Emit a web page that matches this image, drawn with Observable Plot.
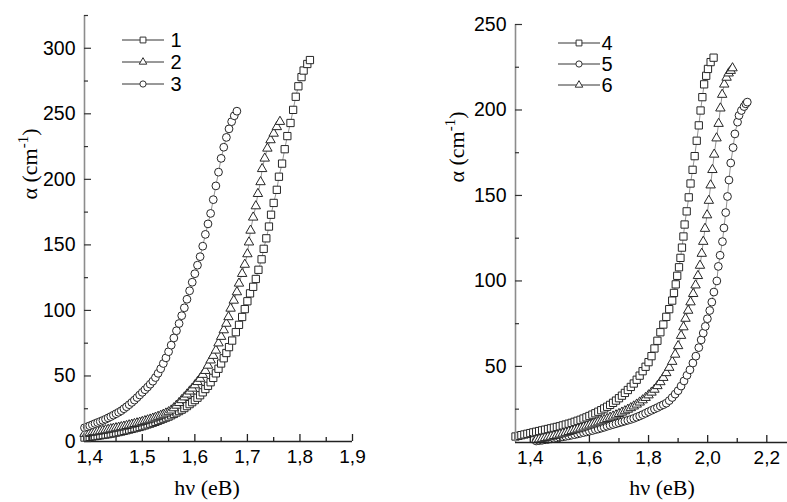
<!DOCTYPE html>
<html><head><meta charset="utf-8">
<script src="https://cdn.jsdelivr.net/npm/d3@7"></script>
<script src="https://cdn.jsdelivr.net/npm/@observablehq/plot@0.6"></script>
<style>
body{margin:0;background:#fff;}
#wrap{display:flex;width:787px;height:502px;overflow:hidden;}
svg{display:block}
</style></head><body><div id="wrap"></div>
<script>
// ---------- Left panel data ----------
const series1 = [[1.390,3.0],[1.395,3.2],[1.400,3.5],[1.405,3.8],[1.410,4.1],[1.415,4.4],[1.420,4.7],[1.425,5.0],[1.430,5.3],[1.435,5.6],[1.440,6.0],[1.445,6.4],[1.450,6.8],[1.455,7.2],[1.460,7.6],[1.465,8.1],[1.470,8.6],[1.475,9.1],[1.480,9.6],[1.485,10.1],[1.490,10.6],[1.495,11.1],[1.500,11.7],[1.505,12.3],[1.510,13.0],[1.515,13.6],[1.520,14.3],[1.525,15.0],[1.530,15.8],[1.535,16.6],[1.540,17.4],[1.545,18.2],[1.550,19.0],[1.555,20.0],[1.560,21.0],[1.565,22.1],[1.570,23.2],[1.575,24.3],[1.580,25.5],[1.585,27.0],[1.590,28.5],[1.595,30.0],[1.600,31.6],[1.605,33.4],[1.610,35.3],[1.615,37.5],[1.620,40.0],[1.625,42.5],[1.630,45.2],[1.635,48.5],[1.640,52.0],[1.645,55.5],[1.650,59.5],[1.655,63.5],[1.660,67.5],[1.665,72],[1.671,77],[1.678,83.4],[1.684,89],[1.690,95],[1.695,101],[1.700,107],[1.705,113],[1.711,118],[1.716,124],[1.721,131],[1.727,139],[1.731,147],[1.736,155],[1.741,164],[1.745,173],[1.750,182],[1.756,192],[1.760,202],[1.766,212],[1.771,223],[1.776,233],[1.782,243],[1.787,253],[1.792,263],[1.797,271],[1.803,278],[1.807,283],[1.814,288],[1.819,291]];
const series2 = [[1.390,6.0],[1.395,6.3],[1.400,6.6],[1.405,6.9],[1.410,7.3],[1.415,7.6],[1.420,8.0],[1.425,8.3],[1.430,8.7],[1.435,9.1],[1.440,9.5],[1.445,9.9],[1.450,10.3],[1.455,10.7],[1.460,11.1],[1.465,11.5],[1.470,12.0],[1.475,12.5],[1.480,13.0],[1.485,13.5],[1.490,14.0],[1.495,14.5],[1.500,15.1],[1.505,15.7],[1.510,16.3],[1.515,16.9],[1.520,17.6],[1.525,18.3],[1.530,19.0],[1.535,19.8],[1.540,20.6],[1.545,21.5],[1.550,22.5],[1.555,23.8],[1.560,25.5],[1.565,27.5],[1.570,29.5],[1.575,31.7],[1.580,33.8],[1.585,36.0],[1.590,38.3],[1.595,40.5],[1.600,43.0],[1.605,45.5],[1.610,48.0],[1.615,51.0],[1.620,54.0],[1.625,58.0],[1.630,62.0],[1.635,65.5],[1.640,69.5],[1.645,75],[1.650,80],[1.655,85],[1.660,90],[1.664,95],[1.668,101.5],[1.674,107.6],[1.680,114],[1.684,120.6],[1.690,128],[1.695,135],[1.700,143],[1.703,152],[1.706,161],[1.711,171],[1.716,179.6],[1.720,189],[1.725,198],[1.728,208],[1.733,216],[1.738,223.6],[1.744,230],[1.750,235],[1.756,240],[1.762,244]];
const series3 = [[1.390,10.5],[1.395,11.2],[1.400,12.0],[1.405,12.8],[1.410,13.7],[1.415,14.5],[1.420,15.3],[1.425,16.1],[1.430,17.0],[1.435,18.0],[1.440,19.0],[1.445,20.1],[1.450,21.2],[1.455,22.3],[1.460,23.5],[1.465,25.0],[1.470,26.5],[1.475,28.1],[1.480,29.8],[1.485,31.6],[1.490,33.5],[1.495,35.5],[1.500,37.5],[1.505,39.5],[1.510,41.5],[1.515,43.7],[1.520,46.0],[1.525,48.8],[1.530,52.0],[1.535,55.5],[1.540,59.5],[1.545,63.8],[1.550,68.5],[1.555,73.5],[1.560,79],[1.565,84.5],[1.570,90],[1.575,96],[1.580,102],[1.585,108.5],[1.590,115],[1.595,121.5],[1.600,128],[1.605,134.5],[1.610,141],[1.615,149],[1.620,158],[1.625,166],[1.630,174],[1.635,184.5],[1.640,195],[1.645,205.5],[1.650,216],[1.655,224.5],[1.660,232],[1.665,238.5],[1.670,244],[1.675,248.5],[1.680,252]];

// ---------- Right panel data ----------
const series4 = [[1.35,9.0],[1.36,9.4],[1.37,9.8],[1.38,10.2],[1.39,10.6],[1.40,11.0],[1.41,11.4],[1.42,11.8],[1.43,12.2],[1.44,12.6],[1.45,13.0],[1.46,13.4],[1.47,13.8],[1.48,14.2],[1.49,14.6],[1.50,15.0],[1.51,15.5],[1.52,16.0],[1.53,16.5],[1.54,17.0],[1.55,17.6],[1.56,18.2],[1.57,18.8],[1.58,19.5],[1.59,20.2],[1.60,21.0],[1.61,21.8],[1.62,22.6],[1.63,23.5],[1.64,24.4],[1.65,25.4],[1.66,26.4],[1.67,27.5],[1.68,28.7],[1.69,30.0],[1.70,31.4],[1.71,32.9],[1.72,34.5],[1.73,36.2],[1.74,38.0],[1.75,40.0],[1.76,42.2],[1.77,44.6],[1.78,47.2],[1.79,49.8],[1.80,52.5],[1.81,56.0],[1.82,60.5],[1.83,65.0],[1.84,70.0],[1.85,74.5],[1.86,79.0],[1.87,83.5],[1.88,88.5],[1.886,93],[1.892,98],[1.897,103],[1.903,108],[1.908,113.5],[1.913,119.5],[1.918,126],[1.922,133],[1.929,140.7],[1.936,148.9],[1.942,157],[1.949,165],[1.956,173],[1.963,182],[1.970,191],[1.976,199.7],[1.982,207.5],[1.988,215],[1.995,220],[2.001,224],[2.010,228],[2.020,230.6]];
const series5 = [[1.42,6.4],[1.43,6.6],[1.44,6.8],[1.45,7.1],[1.46,7.3],[1.47,7.6],[1.48,7.9],[1.49,8.2],[1.50,8.5],[1.51,8.8],[1.52,9.1],[1.53,9.4],[1.54,9.8],[1.55,10.1],[1.56,10.5],[1.57,10.9],[1.58,11.3],[1.59,11.7],[1.60,12.1],[1.61,12.5],[1.62,13.0],[1.63,13.4],[1.64,13.9],[1.65,14.4],[1.66,15.0],[1.67,15.5],[1.68,16.0],[1.69,16.5],[1.70,17.0],[1.71,17.5],[1.72,18.0],[1.73,18.5],[1.74,19.0],[1.75,19.6],[1.76,20.3],[1.77,21.0],[1.78,21.8],[1.79,22.6],[1.80,23.5],[1.81,24.3],[1.82,25.1],[1.83,25.9],[1.84,26.8],[1.85,27.6],[1.86,28.5],[1.87,30.0],[1.88,31.8],[1.89,33.8],[1.90,35.8],[1.91,38.5],[1.92,41.5],[1.93,44.8],[1.94,48.0],[1.95,52.0],[1.96,56.0],[1.97,61.0],[1.978,65.5],[1.985,69.5],[1.992,73.4],[1.999,77.9],[2.007,82.7],[2.014,87.6],[2.021,93.5],[2.031,100],[2.036,108.5],[2.042,115],[2.050,123],[2.055,131],[2.061,140],[2.067,149.4],[2.072,159],[2.078,169],[2.086,178],[2.092,186],[2.101,192.9],[2.106,196.8],[2.114,199.7],[2.123,202],[2.129,203.6],[2.134,204.6]];
const series6 = [[1.42,7.0],[1.43,7.4],[1.44,7.8],[1.45,8.2],[1.46,8.6],[1.47,9.0],[1.48,9.4],[1.49,9.8],[1.50,10.3],[1.51,10.8],[1.52,11.3],[1.53,11.8],[1.54,12.3],[1.55,12.8],[1.56,13.3],[1.57,13.8],[1.58,14.4],[1.59,15.0],[1.60,15.6],[1.61,16.2],[1.62,16.8],[1.63,17.4],[1.64,18.0],[1.65,18.7],[1.66,19.4],[1.67,20.1],[1.68,20.8],[1.69,21.5],[1.70,22.3],[1.71,23.1],[1.72,23.9],[1.73,24.8],[1.74,25.7],[1.75,26.7],[1.76,27.8],[1.77,29.0],[1.78,30.3],[1.79,31.7],[1.80,33.2],[1.81,34.8],[1.82,36.5],[1.83,38.6],[1.84,40.9],[1.85,43.4],[1.86,46.2],[1.87,49.3],[1.88,52.8],[1.89,57.0],[1.90,62.0],[1.91,68.0],[1.918,73],[1.925,78],[1.934,82.7],[1.942,87.6],[1.951,92.5],[1.959,97.5],[1.967,103],[1.974,109],[1.980,116],[1.985,123],[1.991,130.6],[1.998,138.5],[2.004,147],[2.010,156],[2.016,165],[2.022,174],[2.030,183.5],[2.037,192],[2.043,201],[2.049,209],[2.056,215],[2.064,219],[2.071,221.5],[2.078,223],[2.084,224.5]];

// ---------- Axes / labels ----------
const leftXDomain = [1.39, 1.9];
const leftYDomain = [0, 325];
const leftXMajor = [1.4, 1.5, 1.6, 1.7, 1.8, 1.9];
const leftXMinor = [1.45, 1.55, 1.65, 1.75, 1.85];
const leftYMajor = [0, 50, 100, 150, 200, 250, 300];
const leftYMinor = [25, 75, 125, 175, 225, 275, 325];

const rightXDomain = [1.35, 2.27];
const rightYDomain = [5.5, 250];
const rightXMajor = [1.4, 1.6, 1.8, 2.0, 2.2];
const rightXMinor = [1.5, 1.7, 1.9, 2.1];
const rightYMajor = [50, 100, 150, 200, 250];
const rightYMinor = [25, 75, 125, 175, 225];

const leftLabels = ["1", "2", "3"];
const leftSymbols = ["square", "triangle", "circle"];
const rightLabels = ["4", "5", "6"];
const rightSymbols = ["square", "circle", "triangle"];

const yTitle = "α (cm";
const ySup = "-1";
const xTitle = "hν (eB)";

const symR = {square: 4.1, circle: 3.9, triangle: 3.5};
const d3Sym = {square: d3.symbolSquare, circle: d3.symbolCircle, triangle: d3.symbolTriangle};

function panel(cfg) {
  const fmt = d => d.toFixed(1).replace(".", ",");
  const marks = [];
  cfg.series.forEach(s => {
    marks.push(Plot.line(s.data, {x: d => d[0], y: d => d[1], stroke: "#666", strokeWidth: 0.7}));
  });
  cfg.series.forEach(s => {
    marks.push(Plot.dot(s.data, {x: d => d[0], y: d => d[1], symbol: s.symbol, r: symR[s.symbol], fill: "white", stroke: "#262626", strokeWidth: 1}));
  });
  marks.push(
    Plot.ruleX([cfg.xDomain[0]], {stroke: "#8c8c8c", strokeWidth: 1.6}),
    Plot.ruleY([cfg.yDomain[0]], {stroke: "#222", strokeWidth: 1.3}),
    Plot.axisY({ticks: cfg.yMajor, tickSize: 0, tickPadding: 9, tickFormat: d => String(d), fontSize: 19.5, label: null, fill: "#000"}),
    Plot.axisY({ticks: cfg.yMajor, tickSize: 7, dx: 7, fill: "none", stroke: "#333", strokeWidth: 1.2, label: null}),
    Plot.axisY({ticks: cfg.yMinor, tickSize: 4, dx: 4, fill: "none", stroke: "#333", strokeWidth: 1.2, label: null}),
    Plot.axisX({ticks: cfg.xMajor, tickSize: 0, tickPadding: 8, tickFormat: fmt, fontSize: 19, label: null, fill: "#000"}),
    Plot.axisX({ticks: cfg.xMajor, tickSize: 7, dy: -7, fill: "none", stroke: "#222", strokeWidth: 1.3, label: null}),
    Plot.axisX({ticks: cfg.xMinor, tickSize: 4, dy: -4, fill: "none", stroke: "#222", strokeWidth: 1.3, label: null})
  );
  const svg = Plot.plot({
    width: cfg.width, height: 502,
    marginLeft: cfg.ml, marginRight: cfg.mr, marginTop: cfg.mt, marginBottom: cfg.mb,
    x: {domain: cfg.xDomain},
    y: {domain: cfg.yDomain},
    style: {fontFamily: "'Liberation Sans', Arial, sans-serif", fontSize: "18px", color: "#111", background: "white", overflow: "visible"},
    marks
  });
  const s = d3.select(svg);
  const serif = "'Liberation Serif', 'Times New Roman', serif";
  const yt = s.append("text")
    .attr("transform", `translate(${cfg.yTitlePos[0]},${cfg.yTitlePos[1]}) rotate(-90)`)
    .attr("text-anchor", "middle")
    .style("font-family", serif).style("font-size", "22px").attr("fill", "#000");
  yt.append("tspan").text(yTitle);
  yt.append("tspan").attr("dy", -9).style("font-size", "15px").text(ySup);
  yt.append("tspan").attr("dy", 9).text(")");
  s.append("text").attr("x", cfg.xTitlePos[0]).attr("y", cfg.xTitlePos[1])
    .attr("text-anchor", "middle").style("font-family", serif).style("font-size", "22px").attr("fill", "#000")
    .text(xTitle);
  // legend
  const lg = cfg.legend;
  cfg.series.forEach((ser, i) => {
    const y = lg.rows[i];
    const g = s.append("g");
    g.append("line").attr("x1", lg.x0).attr("x2", lg.x1).attr("y1", y).attr("y2", y).attr("stroke", "#333").attr("stroke-width", 1);
    const sz = symR[ser.symbol] * 0.8;
    g.append("path").attr("d", d3.symbol(d3Sym[ser.symbol], sz * sz * Math.PI)())
      .attr("transform", `translate(${lg.xm},${y})`).attr("fill", "white").attr("stroke", "#333").attr("stroke-width", 1);
    g.append("text").attr("x", lg.xt).attr("y", y).attr("dy", "0.35em")
      .style("font-family", "'Liberation Sans', Arial, sans-serif").style("font-size", "20px").attr("fill", "#000")
      .text(ser.label);
  });
  return svg;
}

const wrap = document.getElementById("wrap");
wrap.appendChild(panel({
  width: 400, ml: 84, mr: 48, mt: 15, mb: 61,
  xDomain: leftXDomain, yDomain: leftYDomain,
  xMajor: leftXMajor, xMinor: leftXMinor, yMajor: leftYMajor, yMinor: leftYMinor,
  series: [series1, series2, series3].map((d, i) => ({data: d, symbol: leftSymbols[i], label: leftLabels[i]})),
  yTitlePos: [37, 164], xTitlePos: [207, 495],
  legend: {x0: 122, x1: 164, xm: 143, xt: 176, rows: [40, 62, 84]}
}));
wrap.appendChild(panel({
  width: 387, ml: 115, mr: 0, mt: 24, mb: 60,
  xDomain: rightXDomain, yDomain: rightYDomain,
  xMajor: rightXMajor, xMinor: rightXMinor, yMajor: rightYMajor, yMinor: rightYMinor,
  series: [series4, series5, series6].map((d, i) => ({data: d, symbol: rightSymbols[i], label: rightLabels[i]})),
  yTitlePos: [64, 147], xTitlePos: [262, 495],
  legend: {x0: 158, x1: 200, xm: 179, xt: 207, rows: [43, 64, 85]}
}));
</script></body></html>
